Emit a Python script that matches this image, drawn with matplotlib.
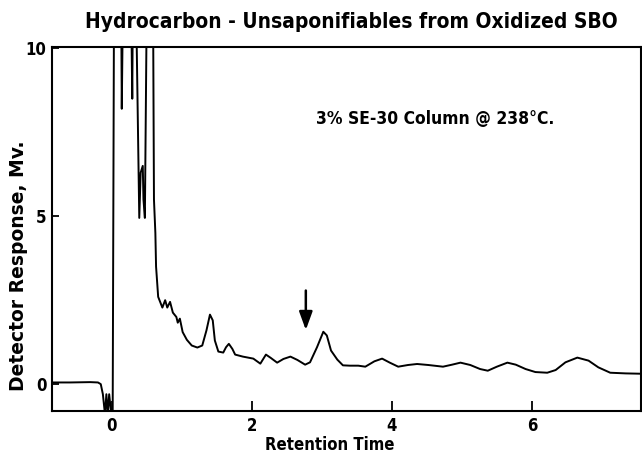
import matplotlib.pyplot as plt

# detector trace (retention time, response in Mv)
time = [
    -0.86, -0.60, -0.31, -0.20, -0.16, -0.13, -0.10, -0.08, -0.06, -0.04, -0.01, 0.01, 0.03,
    0.13, 0.14, 0.16, 0.27, 0.29, 0.30, 0.34, 0.39, 0.41, 0.44, 0.45, 0.47, 0.50, 0.54,
    0.59, 0.60, 0.62, 0.63, 0.66, 0.72, 0.76, 0.79, 0.83, 0.87, 0.92, 0.94, 0.97, 1.01,
    1.07, 1.14, 1.22, 1.29, 1.35, 1.40, 1.44, 1.47, 1.52, 1.59, 1.63, 1.67, 1.72, 1.76,
    1.87, 2.02, 2.12, 2.20, 2.27, 2.36, 2.45, 2.55, 2.65, 2.76, 2.83, 2.93, 3.02, 3.07,
    3.13, 3.22, 3.30, 3.40, 3.52, 3.62, 3.75, 3.86, 3.97, 4.09, 4.23, 4.36, 4.52, 4.73,
    4.86, 4.98, 5.12, 5.26, 5.37, 5.50, 5.65, 5.77, 5.91, 6.05, 6.22, 6.34, 6.48, 6.65,
    6.81, 6.95, 7.12, 7.34, 7.56,
]
response = [
    0.05, 0.05, 0.06, 0.05, 0.0, -0.3, -0.9, -0.3, -0.9, -0.3, -0.9, -0.9, 12,
    12, 8.2, 12, 12, 8.5, 12, 12, 4.95, 6.3, 6.5, 5.5, 4.95, 12, 12,
    10, 5.5, 4.5, 3.5, 2.6, 2.28, 2.5, 2.28, 2.45, 2.13, 2.0, 1.83, 1.95, 1.55,
    1.32, 1.15, 1.09, 1.15, 1.6, 2.07, 1.9, 1.3, 0.97, 0.94, 1.1, 1.2, 1.05, 0.88,
    0.82, 0.76, 0.61, 0.88, 0.78, 0.64, 0.75, 0.82, 0.72, 0.58, 0.65, 1.1, 1.56, 1.45,
    1.0, 0.73, 0.56, 0.55, 0.55, 0.52, 0.68, 0.76, 0.64, 0.52, 0.57, 0.6, 0.57, 0.52,
    0.58, 0.64, 0.57, 0.45, 0.40, 0.52, 0.64, 0.58, 0.45, 0.36, 0.34, 0.42, 0.65, 0.79,
    0.7, 0.5, 0.34, 0.32, 0.31,
]
x_ticks = [0, 2, 4, 6]
y_ticks = [0, 5, 10]
arrow_time = 2.77
arrow_from, arrow_to = 2.87, 1.53

TITLE = "Hydrocarbon - Unsaponifiables from Oxidized SBO"
NOTE = "3% SE-30 Column @ 238°C."

font = dict(family="DejaVu Sans", fontstretch="condensed", fontweight="bold")

fig = plt.figure(figsize=(6.42, 4.54), dpi=100)
ax = fig.add_axes([0.081, 0.0947, 0.9175, 0.8018])

ax.plot(time, response, color="black", linewidth=1.4, solid_joinstyle="round")
ax.set_xlim(-0.857, 7.56)
ax.set_ylim(-0.8, 10.04)

ax.set_xticks(x_ticks)
ax.set_yticks(y_ticks)
ax.set_xticklabels([str(v) for v in x_ticks], fontsize=12, **font)
ax.set_yticklabels([str(v) for v in y_ticks], fontsize=12, **font)
ax.tick_params(axis="x", direction="in", length=7, width=1.3, pad=4)
ax.tick_params(axis="y", direction="in", length=5, width=1.3, pad=4)
for spine in ax.spines.values():
    spine.set_linewidth(1.5)

ax.set_xlabel("Retention Time", fontsize=12, labelpad=2, **font)
ax.xaxis.set_label_coords(0.472, -0.07)
ax.set_ylabel("Detector Response, Mv.", fontsize=13.5, family="DejaVu Sans", fontweight="bold")
ax.yaxis.set_label_coords(-0.041, 0.398)

ax.annotate(
    "",
    xy=(arrow_time, arrow_to),
    xytext=(arrow_time, arrow_from),
    arrowprops=dict(arrowstyle="-|>,head_length=1.1,head_width=0.4", color="black", lw=1.8),
)
ax.text(0.449, 0.802, NOTE, transform=ax.transAxes, ha="left", va="center", fontsize=12.5, **font)

fig.text(0.547, 0.951, TITLE, ha="center", va="center", fontsize=15, **font)

fig.savefig("out.png", dpi=100)
plt.close(fig)
